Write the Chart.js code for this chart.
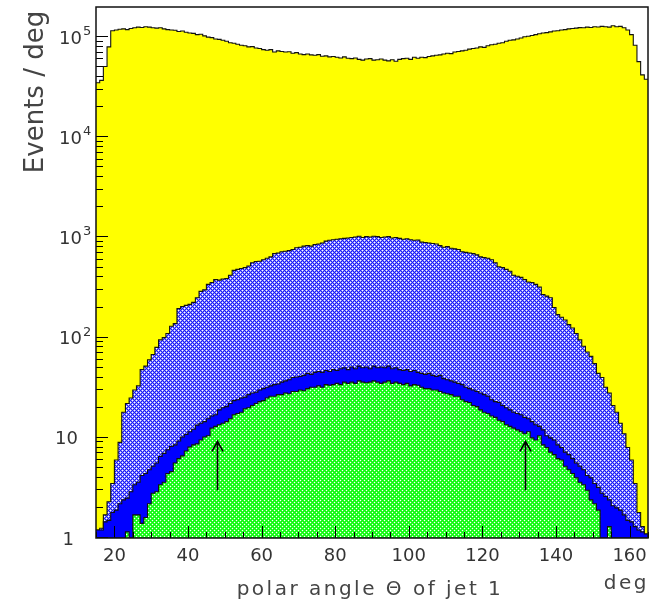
<!DOCTYPE html>
<html><head><meta charset="utf-8">
<script src="https://cdn.jsdelivr.net/npm/chart.js@4.4.1/dist/chart.umd.min.js"></script>
<style>html,body{margin:0;padding:0;background:#fff;}canvas{display:block;}</style>
</head><body>
<canvas id="c" width="661" height="605"></canvas>
<script>
// ---- data (events per 1-degree bin, bins from 15 to 165 deg) ----
const binLowEdges = Array.from({length: 150}, (_, i) => 15 + i);
const binUpperEdge = 165;

const totalEvents = [
  35000, 37000, 51000, 80000, 116000, 118000, 120000, 121000, 119000, 122000,
  124000, 126000, 125000, 127000, 126000, 124000, 123000, 124000, 121000, 119000,
  118000, 117000, 114000, 115000, 112000, 110000, 109000, 106000, 107000, 103000,
  100000, 99000, 96000, 95000, 93000, 91000, 88000, 87000, 85000, 83000,
  82000, 80000, 80500, 78000, 77000, 75000, 74000, 75000, 71000, 73000,
  72000, 71000, 71500, 69000, 70000, 68000, 67000, 68000, 66500, 66000,
  67000, 64500, 65000, 63500, 64000, 63000, 62000, 63500, 61500, 61000,
  62000, 60000, 59000, 60500, 61000, 59000, 59500, 60500, 59000, 58000,
  59500, 57500, 60000, 61000, 61500, 60000, 63000, 61500, 63000, 62500,
  64000, 65000, 66000, 66500, 68000, 69000, 68500, 71000, 72000, 73000,
  74000, 76000, 77000, 78000, 80000, 79000, 82000, 84000, 85000, 87000,
  88000, 91000, 93000, 94000, 96000, 98000, 101000, 102000, 104000, 106000,
  108000, 110000, 111000, 113000, 115000, 116000, 118000, 119000, 121000, 122000,
  123000, 124500, 124000, 126000, 125000, 127000, 126500, 128000, 127000, 126000,
  130000, 127000, 128000, 124000, 118000, 106000, 83000, 57000, 42000, 38000
];

const hatchedBlue = [
  1.2, 1.25, 1.7, 2.3, 3.5, 6, 9, 18, 22, 25,
  30, 33, 48, 52, 60, 68, 80, 95, 100, 110,
  130, 138, 195, 205, 210, 215, 225, 250, 290, 300,
  340, 355, 380, 375, 385, 390, 420, 470, 480, 490,
  500, 520, 560, 575, 580, 600, 620, 640, 690, 700,
  720, 730, 740, 760, 790, 800, 820, 830, 820, 850,
  860, 880, 920, 940, 950, 960, 970, 980, 990, 1000,
  1010, 1030, 1000, 1020, 1010, 1030, 1020, 1000, 1010, 1020,
  990, 1000, 980, 960, 970, 950, 940, 945, 900, 890,
  880, 870, 860, 830, 800, 810, 780, 770, 760, 720,
  710, 700, 690, 670, 640, 630, 620, 600, 560, 510,
  500, 480, 460, 420, 410, 400, 380, 360, 355, 340,
  320, 270, 260, 250, 200, 170, 160, 150, 135, 125,
  110, 95, 82, 72, 65, 55, 44, 40, 32, 28,
  21, 18, 14, 11, 8, 6, 3.5, 1.8, 1.3, 1.05
];

const solidBlue = [
  1.2, 1.2, 1.45, 1.5, 1.8, 1.9, 2.2, 2.4, 2.5, 2.9,
  3.4, 3.6, 4.2, 4.4, 4.8, 5.2, 5.6, 6.5, 7.0, 7.6,
  8.2, 8.5, 9.3, 10.2, 10.8, 11.5, 12.2, 13.4, 14, 14.5,
  15.5, 16.5, 17, 19, 20, 20.5, 22, 23.5, 24, 25,
  25.5, 27, 28, 28.5, 30, 31, 32, 33, 34, 34.5,
  36, 37, 38, 40, 40.5, 41, 42, 44, 43, 45,
  46, 45, 47, 46, 48, 47, 49, 50, 48, 51,
  49, 52, 50, 51, 49, 52, 50, 51, 50, 52,
  49, 50, 48, 47, 48, 46, 47, 45, 44, 43,
  44, 42, 41, 42, 39, 38, 37, 36, 35, 34,
  32, 31, 30, 29, 28, 27, 26, 24, 23, 22.5,
  21, 20, 19, 18, 17.5, 17, 16, 15.5, 14.5, 13.5,
  13, 12, 10.5, 10, 9.5, 8.5, 8, 7.2, 6.8, 6.2,
  5.6, 5.2, 4.8, 4.2, 4.0, 3.5, 3.2, 2.8, 2.6, 2.4,
  2.1, 2.0, 1.9, 1.7, 1.5, 1.45, 1.3, 1.2, 1.15, 1.1
];

const greenSignal = [
  1, 1, 1, 1, 1, 1, 1, 1, 1.15, 1,
  1.7, 1.7, 1.4, 1.6, 2.2, 2.8, 2.9, 3.4, 3.6, 4.4,
  4.6, 5.6, 6.2, 6.6, 7.4, 8.1, 8.5, 8.7, 9.5, 10.2,
  10.5, 12.5, 13, 13.5, 14, 14.5, 15.5, 17, 17.5, 18,
  19.5, 20, 21, 22, 23, 23.5, 25, 26, 26, 27,
  27, 28, 27.5, 29, 29, 30, 29.5, 31, 32, 32,
  33, 32, 34, 33.5, 34, 35, 34, 36, 35, 36,
  35, 37, 36, 35.5, 36, 37, 36, 35, 36, 37,
  35, 36, 35, 34, 35, 33, 34, 33.5, 32, 31,
  31, 30, 30, 29, 28, 27.5, 27, 26, 26, 24,
  23, 22.5, 21, 20.5, 19, 18, 17.5, 16.5, 16, 15,
  14.5, 13.5, 13, 12.5, 12, 11.5, 11, 11.5, 10, 9.5,
  10.5, 8.5, 8, 7.2, 6.8, 6.2, 6, 5.2, 4.8, 4.4,
  4, 3.6, 3.4, 3, 2.4, 2.2, 1.9, 1, 1, 1.3,
  1, 1, 1, 1, 1, 1, 1, 1, 1, 1
];

const xTickValues = [20, 40, 60, 80, 100, 120, 140, 160];
const yTickValues = [1, 10, 100, 1000, 10000, 100000];
const yTickBase = ["1", "10", "10", "10", "10", "10"];
const yTickExp = ["", "", "2", "3", "4", "5"];
const arrowX = [47.8, 131.7];
const arrowFrom = 3;
const arrowTo = 9.2;

// ---- helpers ----
function steps(values) {
  const pts = values.map((v, i) => ({x: binLowEdges[i], y: v}));
  pts.push({x: binUpperEdge, y: values[values.length - 1]});
  return pts;
}
function makeHatch(r, g, b, mix) {
  const c = document.createElement('canvas');
  c.width = 4; c.height = 4;
  const t = c.getContext('2d');
  t.fillStyle = `rgb(${r},${g},${b})`;
  t.fillRect(0, 0, 4, 4);
  const l = v => Math.round(v + mix * (255 - v));
  t.fillStyle = `rgb(${l(r)},${l(g)},${l(b)})`;
  [[1,0],[3,0],[0,1],[0,3],[2,1],[2,3],[1,2],[3,2]].forEach(([px, py]) => t.fillRect(px, py, 1, 1));
  t.fillStyle = '#ffffff';
  t.fillRect(0, 0, 1, 1); t.fillRect(2, 2, 1, 1);
  return t.createPattern(c, 'repeat');
}
const bluePattern = makeHatch(25, 25, 250, 0.5);
const greenPattern = makeHatch(10, 250, 10, 0.2);

function ds(label, values, bg, order) {
  return {
    label, data: steps(values), stepped: 'before', fill: 'start',
    backgroundColor: bg, borderColor: '#111', borderWidth: 1.1,
    pointRadius: 0, order
  };
}

const FONT = '"DejaVu Sans", "Liberation Sans", sans-serif';
const decor = {
  id: 'decor',
  afterDatasetsDraw(chart) {
    const {ctx, chartArea: a, scales: {x, y}} = chart;
    ctx.save();
    ctx.strokeStyle = '#000';
    ctx.lineWidth = 1;
    ctx.beginPath();
    for (let e = 0; e <= 5; e++) {
      for (let m = 1; m <= 9; m++) {
        const v = m * Math.pow(10, e);
        if (v >= y.max) break;
        const py = Math.round(y.getPixelForValue(v)) - 0.5;
        ctx.moveTo(a.left, py);
        ctx.lineTo(a.left + (m === 1 ? 12 : 7), py);
      }
    }
    for (let d = 15; d <= 165; d += 5) {
      const px = Math.round(x.getPixelForValue(d)) + 0.5;
      ctx.moveTo(px, a.bottom);
      ctx.lineTo(px, a.bottom - (d % 20 === 0 ? 12 : 6));
    }
    ctx.stroke();
    // frame
    ctx.lineWidth = 1.5;
    ctx.strokeStyle = '#111';
    ctx.strokeRect(a.left, a.top, a.right - a.left, a.bottom - a.top);
    // arrows
    ctx.lineWidth = 1.6;
    ctx.strokeStyle = '#000';
    arrowX.forEach(ax => {
      const px = Math.round(x.getPixelForValue(ax)) + 0.5;
      const y0 = y.getPixelForValue(arrowFrom), y1 = y.getPixelForValue(arrowTo);
      ctx.beginPath();
      ctx.moveTo(px, y0); ctx.lineTo(px, y1);
      ctx.moveTo(px - 5.5, y1 + 10); ctx.lineTo(px, y1); ctx.lineTo(px + 5.5, y1 + 10);
      ctx.stroke();
    });
    // tick labels
    ctx.fillStyle = '#333';
    ctx.textBaseline = 'alphabetic';
    ctx.font = '18px ' + FONT;
    ctx.textAlign = 'center';
    xTickValues.forEach(v => ctx.fillText(String(v), x.getPixelForValue(v), 561));
    yTickValues.forEach((v, i) => {
      const py = y.getPixelForValue(v);
      ctx.font = '18px ' + FONT;
      if (yTickExp[i] === '') {
        ctx.textAlign = 'right';
        ctx.fillText(yTickBase[i], yTickBase[i] === '1' ? 74 : 78, py + 6.5);
      } else {
        ctx.textAlign = 'right';
        ctx.fillText(yTickBase[i], 82, py + 6.5);
        ctx.textAlign = 'left';
        ctx.font = '13px ' + FONT;
        ctx.fillText(yTickExp[i], 83, py - 2);
      }
    });
    // axis titles
    ctx.fillStyle = '#444';
    ctx.font = '20px ' + FONT;
    ctx.letterSpacing = '2.5px';
    ctx.textAlign = 'center';
    ctx.fillText('polar angle \u0398 of jet 1', 370, 595);
    ctx.textAlign = 'right';
    ctx.fillText('deg', 649, 589);
    ctx.letterSpacing = '0px';
    ctx.save();
    ctx.translate(43, 92);
    ctx.rotate(-Math.PI / 2);
    ctx.font = '26px ' + FONT;
    ctx.textAlign = 'center';
    ctx.fillText('Events / deg', 0, 0);
    ctx.restore();
    ctx.restore();
  }
};

new Chart(document.getElementById('c'), {
  type: 'line',
  data: {
    datasets: [
      ds('green', greenSignal, greenPattern, 0),
      ds('solid blue', solidBlue, '#0000ff', 1),
      ds('hatched blue', hatchedBlue, bluePattern, 2),
      ds('total', totalEvents, '#ffff00', 3)
    ]
  },
  options: {
    responsive: false,
    animation: false,
    devicePixelRatio: 1,
    layout: {padding: {left: 96, right: 13, top: 7, bottom: 67}},
    scales: {
      x: {type: 'linear', min: 15, max: 165, bounds: 'data', display: false},
      y: {type: 'logarithmic', min: 1, max: 200000, bounds: 'data', display: false}
    },
    plugins: {legend: {display: false}, tooltip: {enabled: false}},
    elements: {line: {tension: 0}, point: {radius: 0}}
  },
  plugins: [decor]
});
</script>
</body></html>
